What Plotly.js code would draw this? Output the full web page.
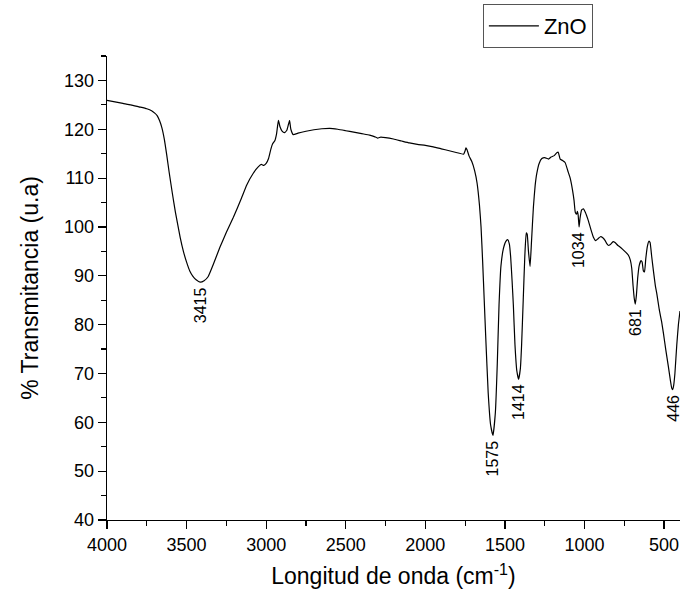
<!DOCTYPE html>
<html>
<head>
<meta charset="utf-8">
<script src="https://cdn.plot.ly/plotly-3.0.1.min.js"></script>
<style>html,body{margin:0;padding:0;background:#fff;}#chart{width:683px;height:597px;}</style>
</head>
<body>
<div id="chart"></div>
<script>
// Wavenumber (cm^-1)
const wavenumber = [
4000,3950,3900,3850,3800,3750,3720,3700,3685,3670,3655,3640,3625,3610,3590,3570,3540,3520,3500,3480,3460,3440,
3415,3390,3365,3330,3290,3250,3206,3160,3122,3081,3050,3030,3015,3000,2985,2970,2960,2945,2935,2923,
2913,2900,2885,2870,2860,2853,2845,2830,2800,2750,2700,2650,2600,2550,2500,2450,2400,2350,2320,2300,
2280,2250,2200,2150,2100,2050,2000,1950,1900,1850,1800,1760,1750,1745,1738,1725,1708,1690,1675,1660,
1650,1640,1630,1620,1605,1590,1575,1560,1548,1537,1525,1510,1495,1483,1472,1464,1455,1447,1437,1425,
1414,1403,1395,1385,1375,1366,1360,1352,1342,1333,1321,1310,1300,1285,1268,1250,1226,1210,1190,1174,
1165,1153,1138,1122,1105,1090,1075,1066,1058,1050,1045,1040,1034,1028,1018,1007,995,976,960,944,
930,915,900,885,870,860,848,838,820,808,790,777,760,740,724,712,703,695,688,681,
674,666,657,645,638,630,623,615,605,595,588,578,567,555,546,530,515,504,490,473,
460,452,446,440,432,420,410,400
];
// % Transmittance (u.a)
const transmittance = [
125.9,125.6,125.3,125.0,124.6,124.2,123.8,123.3,122.8,121.8,120.3,118.0,114.8,111.3,107.0,103.0,97.8,95.0,92.8,91.0,89.9,89.2,
88.7,89.0,89.8,92.5,95.9,98.9,102.0,105.5,108.6,111.0,112.3,112.8,112.6,113.0,114.0,116.0,117.0,117.7,119.0,121.8,
120.5,119.6,119.3,119.8,121.0,121.8,120.0,118.9,119.2,119.6,119.9,120.1,120.2,120.0,119.7,119.4,119.1,118.8,118.5,118.2,
118.4,118.3,118.0,117.6,117.2,116.9,116.7,116.4,116.0,115.6,115.2,114.9,115.6,116.2,115.8,114.5,113.4,111.5,109.0,104.5,
100.0,93.0,85.0,77.0,66.0,59.5,57.3,62.0,72.0,84.0,92.0,95.5,97.0,97.4,96.5,93.9,89.0,84.0,76.0,70.5,
68.8,71.0,76.0,85.0,94.0,98.8,98.5,95.0,91.9,97.0,104.1,108.5,110.9,113.0,114.0,114.2,113.9,114.3,114.6,115.2,
115.3,113.9,113.6,113.2,111.5,110.0,107.5,105.5,103.0,102.6,103.2,102.5,100.0,101.8,103.5,103.7,103.0,101.3,99.5,97.9,
97.2,97.6,98.0,97.8,97.2,96.6,96.2,96.4,97.0,96.8,96.2,95.9,95.4,94.8,94.2,93.2,91.5,88.0,85.5,84.2,
86.0,89.5,92.0,93.1,92.8,91.0,90.8,93.5,96.0,97.1,96.8,94.0,91.0,88.0,86.4,83.0,80.5,78.2,75.0,71.4,
68.5,67.0,66.7,67.5,70.0,76.0,80.0,82.8
];
const peakLabels = [3415, 1575, 1414, 1034, 681, 446];
const seriesName = 'ZnO';

function valueAt(x){
  let best = 0, bd = Infinity;
  for (let i = 0; i < wavenumber.length; i++){
    const d = Math.abs(wavenumber[i] - x);
    if (d < bd){ bd = d; best = i; }
  }
  return transmittance[best];
}

const annotations = peakLabels.map(p => ({
  x: p, y: valueAt(p), xref: 'x', yref: 'y',
  text: String(p), showarrow: false, textangle: -90,
  yanchor: 'top', xanchor: 'center', yshift: -3,
  font: {family: 'Liberation Sans, Arial, sans-serif', size: 16, color: '#000'}
}));

const trace = {
  x: wavenumber, y: transmittance, type: 'scatter', mode: 'lines',
  name: seriesName, line: {color: '#000', width: 1.2, shape: 'spline', smoothing: 0.4}
};

const axisFont = {family: 'Liberation Sans, Arial, sans-serif', size: 18, color: '#000'};
const layout = {
  width: 683, height: 597,
  margin: {l: 107, r: 3, t: 56, b: 77},
  paper_bgcolor: '#fff', plot_bgcolor: '#fff',
  showlegend: true,
  legend: {
    x: 0.656, y: 1.112, xanchor: 'left', yanchor: 'top',
    bordercolor: '#555', borderwidth: 1, bgcolor: '#fff',
    font: {family: 'Liberation Sans, Arial, sans-serif', size: 22, color: '#000'},
    itemwidth: 50, tracegroupgap: 0
  },
  xaxis: {
    range: [4000, 400], autorange: false,
    tickmode: 'array', tickvals: [4000,3500,3000,2500,2000,1500,1000,500],
    ticks: 'outside', ticklen: 8, tickwidth: 1.2, tickcolor: '#000',
    minor: {tickmode: 'array', tickvals: [3750,3250,2750,2250,1750,1250,750], ticks: 'outside', ticklen: 5, tickwidth: 1.2, tickcolor: '#000'},
    showline: true, linecolor: '#000', linewidth: 1.3,
    showgrid: false, zeroline: false,
    tickfont: axisFont,
    title: {text: 'Longitud de onda (cm<sup>-1</sup>)', font: {family: 'Liberation Sans, Arial, sans-serif', size: 23, color: '#000'}, standoff: 14}
  },
  yaxis: {
    range: [40, 135], autorange: false,
    tickmode: 'array', tickvals: [40,50,60,70,80,90,100,110,120,130],
    ticks: 'outside', ticklen: 8, tickwidth: 1.2, tickcolor: '#000',
    minor: {tickmode: 'array', tickvals: [45,55,65,75,85,95,105,115,125,135], ticks: 'outside', ticklen: 5, tickwidth: 1.2, tickcolor: '#000'},
    showline: true, linecolor: '#000', linewidth: 1.3,
    showgrid: false, zeroline: false,
    tickfont: axisFont,
    title: {text: '% Transmitancia (u.a)', font: {family: 'Liberation Sans, Arial, sans-serif', size: 23, color: '#000'}, standoff: 19}
  },
  annotations: annotations
};

Plotly.newPlot('chart', [trace], layout, {displayModeBar: false, staticPlot: true});
</script>
</body>
</html>
